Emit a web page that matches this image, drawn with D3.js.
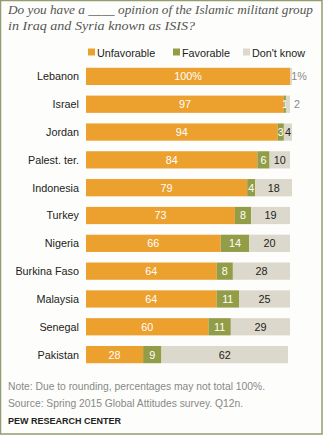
<!DOCTYPE html>
<html><head><meta charset="utf-8">
<script src="https://cdn.jsdelivr.net/npm/d3@7"></script>
<style>
html,body{margin:0;padding:0;background:#fff;}
svg{display:block;}
</style></head>
<body>
<script>
const countries = ["Lebanon","Israel","Jordan","Palest. ter.","Indonesia","Turkey","Nigeria","Burkina Faso","Malaysia","Senegal","Pakistan"];
const unfavorable = [100,97,94,84,79,73,66,64,64,60,28];
const favorable = [0,1,3,6,4,8,14,8,11,11,9];
const dontKnow = [1,2,4,10,18,19,20,28,25,29,62];
const seriesNames = ["Unfavorable","Favorable","Don't know"];
const seriesColors = ["#eca02e","#939d48","#dcd9cc"];
const titleLines = ["Do you have a ____ opinion of the Islamic militant group","in Iraq and Syria known as ISIS?"];
const notes = ["Note: Due to rounding, percentages may not total 100%.","Source: Spring 2015 Global Attitudes survey. Q12n."];
const credit = "PEW RESEARCH CENTER";

const W=323,H=435;
const svg=d3.select("body").append("svg").attr("width",W).attr("height",H);
svg.append("rect").attr("x",0.5).attr("y",0.5).attr("width",W-1.5).attr("height",H-1.5)
  .attr("fill","#fdfefb").attr("stroke","#929c70").attr("stroke-width",1.5);

const sans="'Liberation Sans', Arial, sans-serif";
const titleWidths=[305,187];
svg.selectAll("text.title").data(titleLines).join("text")
  .attr("x",8).attr("y",(d,i)=>14+i*15.5)
  .attr("font-family","'Liberation Serif', Georgia, serif").attr("font-style","italic")
  .attr("font-size",13.5).attr("fill","#555")
  .attr("textLength",(d,i)=>titleWidths[i]).attr("lengthAdjust","spacingAndGlyphs")
  .text(d=>d);

const x=d3.scaleLinear().domain([0,100]).range([86,290]);
const y=d3.scaleBand().domain(countries).range([62.5,368.5]).paddingInner(0.38).paddingOuter(0.19);

// legend
const legX=[88,173,243];
const lg=svg.selectAll("g.leg").data(seriesNames).join("g").attr("transform",(d,i)=>`translate(${legX[i]},53)`);
lg.append("rect").attr("x",0).attr("y",-4.5).attr("width",7).attr("height",7).attr("fill",(d,i)=>seriesColors[i]);
lg.append("text").attr("x",9).attr("y",3.5).attr("font-family",sans).attr("font-size",10.8).attr("fill","#222").text(d=>d);

const rows=countries.map((c,i)=>({c,vals:[unfavorable[i],favorable[i],dontKnow[i]]}));
const g=svg.selectAll("g.row").data(rows).join("g").attr("transform",d=>`translate(0,${y(d.c)})`);
g.append("text").attr("x",79).attr("y",y.bandwidth()/2+4).attr("text-anchor","end")
  .attr("font-family",sans).attr("font-size",10.8).attr("fill","#222").text(d=>d.c);

g.each(function(d,ri){
  const row=d3.select(this);
  let cum=0;
  d.vals.forEach((v,si)=>{
    const x0=x(cum), x1=x(cum+v);
    cum+=v;
    if(v<=0) return;
    row.append("rect").attr("x",x0).attr("y",0).attr("width",x1-x0).attr("height",y.bandwidth()).attr("fill",seriesColors[si]);
    let lx=(x0+x1)/2, fill=si===2?"#222":"#fff", txt=String(v);
    if(ri===0 && si===0) txt=v+"%";
    if(si===2 && v<=2){ lx=x1+7; fill="#888"; if(ri===0) txt=v+"%"; }
    row.append("text").attr("x",lx).attr("y",y.bandwidth()/2+4).attr("text-anchor","middle")
      .attr("font-family",sans).attr("font-size",10.8).attr("fill",fill).text(txt);
  });
});

svg.selectAll("text.note").data(notes).join("text")
  .attr("x",8).attr("y",(d,i)=>390+i*17).attr("font-family",sans).attr("font-size",10.3).attr("fill","#888").text(d=>d);
svg.append("text").attr("x",8).attr("y",424).attr("font-family",sans).attr("font-size",9).attr("font-weight","bold").attr("fill","#222").text(credit);
</script>
</body></html>
